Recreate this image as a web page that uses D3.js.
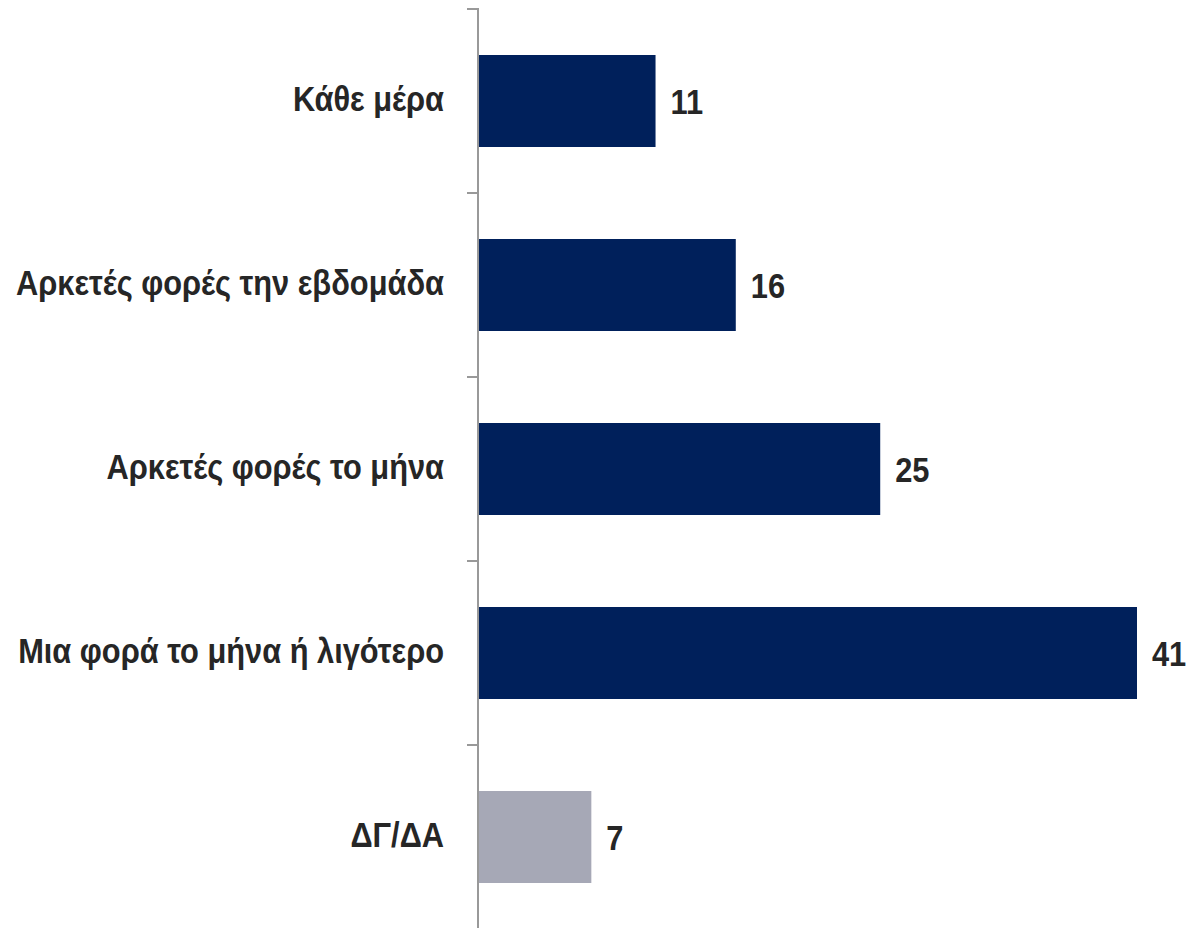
<!DOCTYPE html>
<html>
<head>
<meta charset="utf-8">
<script src="https://cdn.jsdelivr.net/npm/d3@7"></script>
<style>
  body { margin: 0; background: #fff; }
  svg text { font-family: "Liberation Sans", Arial, sans-serif; font-weight: bold; fill: #262626; }
</style>
</head>
<body>
<svg id="chart" width="1194" height="928"></svg>
<script>
(function (d3) {
	"use strict";

	/***** Data *****/
	const categories = ["Κάθε μέρα", "Αρκετές φορές την εβδομάδα", "Αρκετές φορές το μήνα", "Μια φορά το μήνα ή λιγότερο", "ΔΓ/ΔΑ"];
	const values = [11, 16, 25, 41, 7];
	const barColors = ["#00205b", "#00205b", "#00205b", "#00205b", "#a6a8b6"];

	/***** Layout *****/
	const axisX = 478;
	const top = 9, bottom = 929;
	const fontSize = 35;
	const narrow = 0.88;   // squeeze Liberation Sans to look like Arial Narrow

	var svg = d3.select("#chart");

	var x = d3.scaleLinear().domain([0, 41]).range([axisX + 1, 1137]);
	var y = d3.scaleBand().domain(categories).range([top, bottom]).paddingInner(0.5).paddingOuter(0.25);

	// band boundaries for the tick marks
	var step = y.step();
	var tickYs = d3.range(categories.length + 1).map(function (i) { return top + i * step; });

	// bars
	svg.selectAll("rect.bar")
		.data(categories)
		.join("rect")
		.attr("class", "bar")
		.attr("x", x(0))
		.attr("y", function (d) { return y(d); })
		.attr("width", function (d, i) { return x(values[i]) - x(0); })
		.attr("height", y.bandwidth())
		.attr("fill", function (d, i) { return barColors[i]; });

	// axis line + ticks
	svg.append("line")
		.attr("x1", axisX).attr("x2", axisX)
		.attr("y1", top - 1).attr("y2", bottom)
		.attr("stroke", "#999").attr("stroke-width", 2);

	svg.selectAll("line.tick")
		.data(tickYs)
		.join("line")
		.attr("class", "tick")
		.attr("x1", axisX - 11).attr("x2", axisX)
		.attr("y1", function (d) { return d; }).attr("y2", function (d) { return d; })
		.attr("stroke", "#999").attr("stroke-width", 2);

	// category labels
	svg.selectAll("text.cat")
		.data(categories)
		.join("text")
		.attr("class", "cat")
		.attr("transform", function (d) {
			return "translate(444," + (y(d) + y.bandwidth() / 2 - 3) + ") scale(" + narrow + ",1)";
		})
		.attr("dy", "0.36em")
		.attr("text-anchor", "end")
		.attr("font-size", fontSize)
		.text(function (d) { return d; });

	// value labels
	svg.selectAll("text.val")
		.data(categories)
		.join("text")
		.attr("class", "val")
		.attr("transform", function (d, i) {
			return "translate(" + (x(values[i]) + 15) + "," + (y(d) + y.bandwidth() / 2) + ") scale(" + narrow + ",1)";
		})
		.attr("dy", "0.36em")
		.attr("font-size", fontSize)
		.text(function (d, i) { return values[i]; });

})(d3);
</script>
</body>
</html>
